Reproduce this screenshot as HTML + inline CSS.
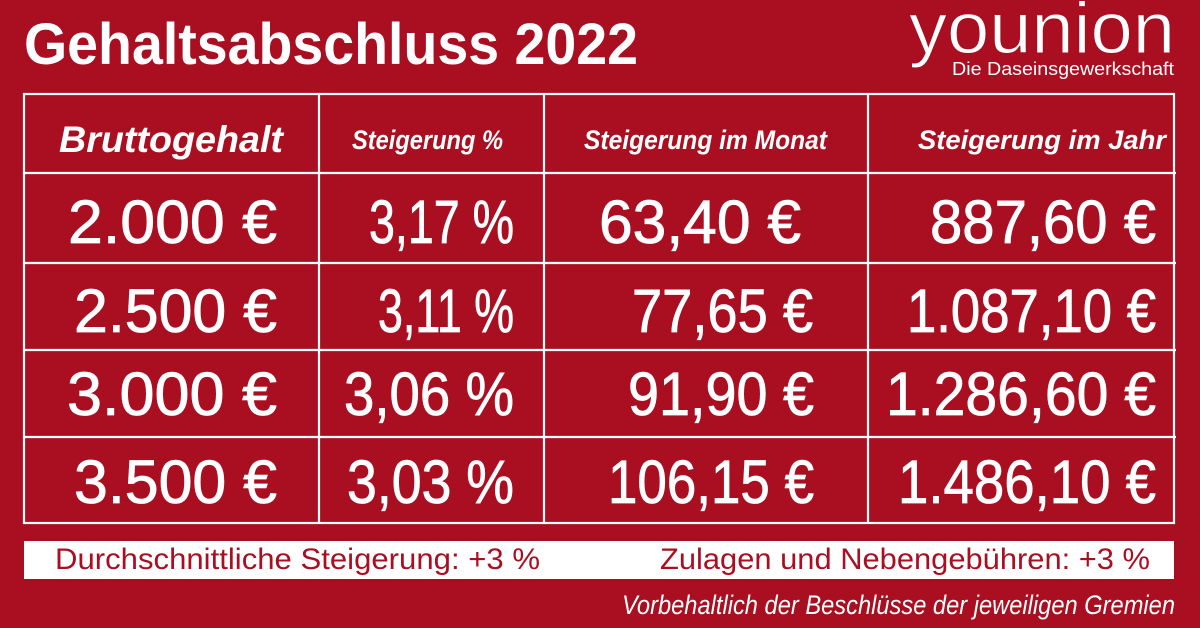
<!DOCTYPE html>
<html>
<head>
<meta charset="utf-8">
<style>
  html,body{margin:0;padding:0;background:#a90f20;}
  svg{display:block;}
  text{font-family:"Liberation Sans",sans-serif;}
</style>
</head>
<body>
<svg width="1200" height="628" viewBox="0 0 1200 628" xmlns="http://www.w3.org/2000/svg">
  <rect x="0" y="0" width="1200" height="628" fill="#a90f20"/>

  <!-- Title -->
  <text x="24" y="64" font-size="58" font-weight="bold" fill="#fff" textLength="614" lengthAdjust="spacingAndGlyphs">Gehaltsabschluss 2022</text>

  <!-- Logo -->
  <text x="909" y="53" font-size="72" fill="#fff" stroke="#a90f20" stroke-width="1" textLength="266" lengthAdjust="spacingAndGlyphs">younion</text>
  <text x="952" y="75" font-size="18" fill="#fff" textLength="222" lengthAdjust="spacingAndGlyphs">Die Daseinsgewerkschaft</text>

  <!-- Table grid -->
  <g stroke="#fff" stroke-width="2.2" fill="none">
    <rect x="24" y="94" width="1150" height="429"/>
    <line x1="24" y1="173" x2="1176" y2="173"/>
    <line x1="24" y1="263" x2="1176" y2="263"/>
    <line x1="24" y1="350" x2="1176" y2="350"/>
    <line x1="24" y1="437" x2="1176" y2="437"/>
    <line x1="319" y1="94" x2="319" y2="523"/>
    <line x1="544" y1="94" x2="544" y2="523"/>
    <line x1="868" y1="94" x2="868" y2="523"/>
  </g>

  <!-- Header -->
  <g fill="#fff" font-weight="bold" font-style="italic">
    <text x="59" y="152" font-size="37" textLength="224" lengthAdjust="spacingAndGlyphs">Bruttogehalt</text>
    <text x="352" y="149" font-size="27" textLength="151" lengthAdjust="spacingAndGlyphs">Steigerung %</text>
    <text x="584" y="149" font-size="27" textLength="243" lengthAdjust="spacingAndGlyphs">Steigerung im Monat</text>
    <text x="918" y="149" font-size="27" textLength="248" lengthAdjust="spacingAndGlyphs">Steigerung im Jahr</text>
  </g>

  <!-- Data -->
  <g fill="#fff" stroke="#fff" stroke-width="0.8" font-size="61">
    <text x="68" y="243" textLength="209" lengthAdjust="spacingAndGlyphs">2.000 €</text>
    <text x="369" y="243" textLength="145" lengthAdjust="spacingAndGlyphs">3,17 %</text>
    <text x="599" y="243" textLength="202" lengthAdjust="spacingAndGlyphs">63,40 €</text>
    <text x="930" y="243" textLength="226" lengthAdjust="spacingAndGlyphs">887,60 €</text>

    <text x="74" y="332" textLength="203" lengthAdjust="spacingAndGlyphs">2.500 €</text>
    <text x="378" y="332" textLength="136" lengthAdjust="spacingAndGlyphs">3,11 %</text>
    <text x="632" y="332" textLength="181" lengthAdjust="spacingAndGlyphs">77,65 €</text>
    <text x="907" y="332" textLength="249" lengthAdjust="spacingAndGlyphs">1.087,10 €</text>

    <text x="67" y="415" textLength="210" lengthAdjust="spacingAndGlyphs">3.000 €</text>
    <text x="344" y="415" textLength="170" lengthAdjust="spacingAndGlyphs">3,06 %</text>
    <text x="628" y="415" textLength="186" lengthAdjust="spacingAndGlyphs">91,90 €</text>
    <text x="886" y="415" textLength="270" lengthAdjust="spacingAndGlyphs">1.286,60 €</text>

    <text x="74" y="503" textLength="203" lengthAdjust="spacingAndGlyphs">3.500 €</text>
    <text x="347" y="503" textLength="167" lengthAdjust="spacingAndGlyphs">3,03 %</text>
    <text x="608" y="503" textLength="206" lengthAdjust="spacingAndGlyphs">106,15 €</text>
    <text x="898" y="503" textLength="258" lengthAdjust="spacingAndGlyphs">1.486,10 €</text>
  </g>

  <!-- Bottom bar -->
  <rect x="24" y="541" width="1150" height="38" fill="#fff"/>
  <text x="55" y="569" font-size="30" fill="#a90f20" textLength="485" lengthAdjust="spacingAndGlyphs">Durchschnittliche Steigerung: +3 %</text>
  <text x="660" y="569" font-size="30" fill="#a90f20" textLength="490" lengthAdjust="spacingAndGlyphs">Zulagen und Nebengebühren: +3 %</text>

  <text x="622" y="614" font-size="27" font-style="italic" fill="#fff" textLength="553" lengthAdjust="spacingAndGlyphs">Vorbehaltlich der Beschlüsse der jeweiligen Gremien</text>
</svg>
</body>
</html>
